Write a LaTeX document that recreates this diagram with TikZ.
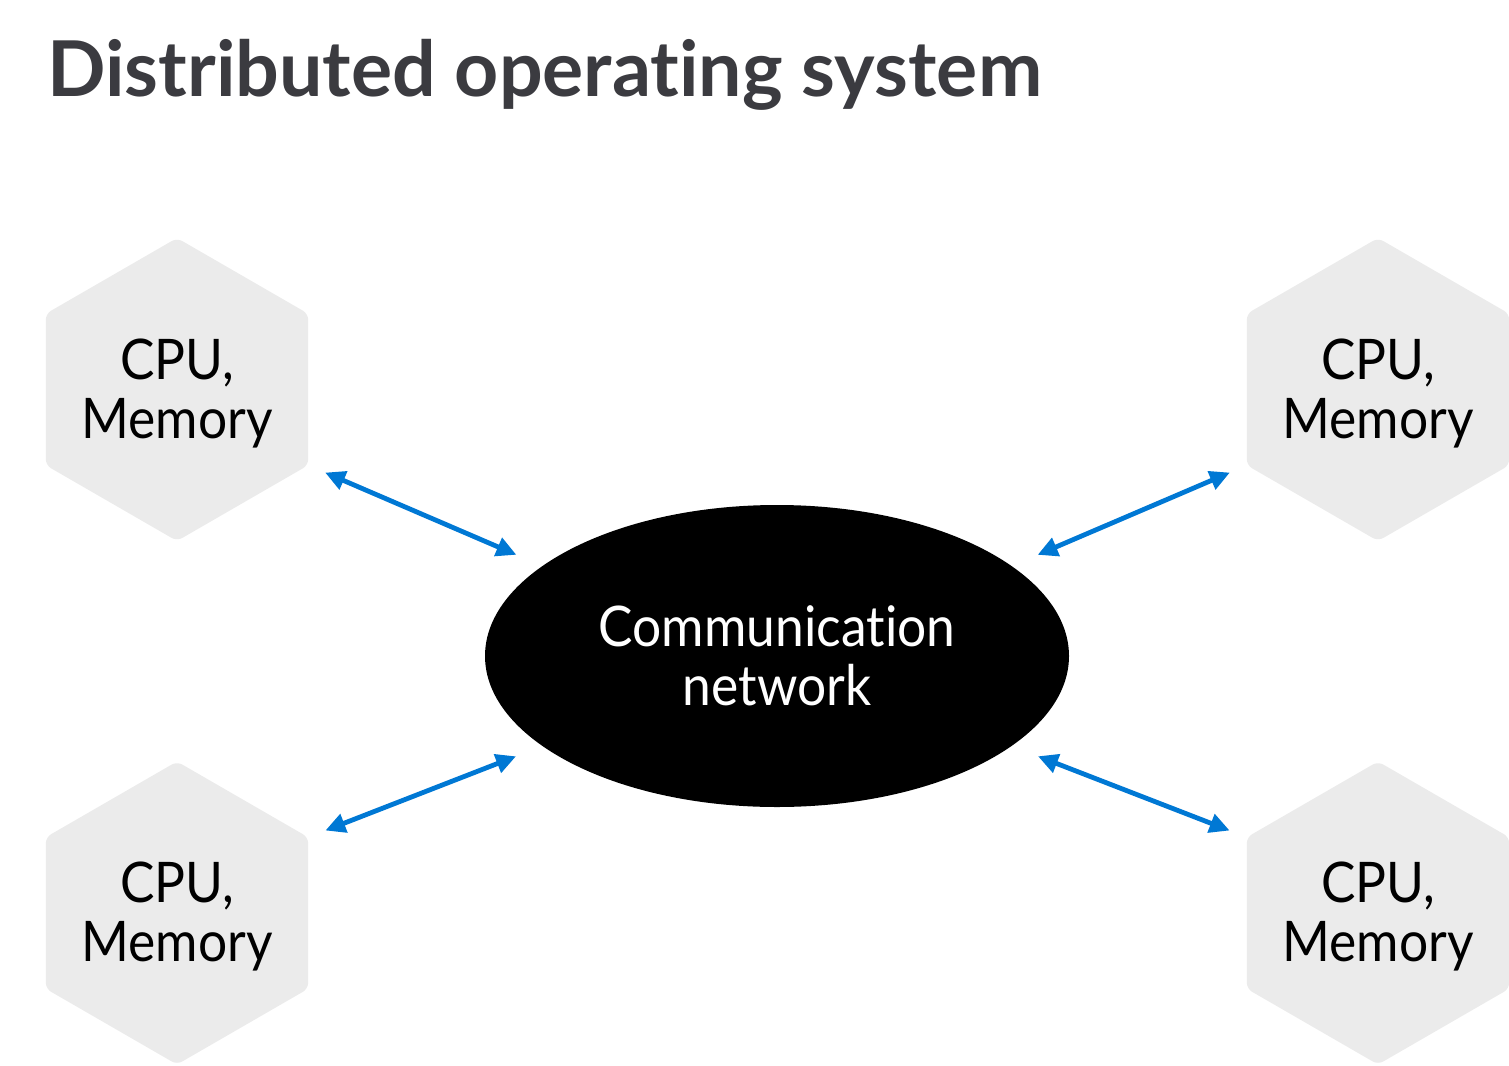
\documentclass[tikz,border=0pt]{standalone}
\usepackage{fontspec}
\setmainfont[FakeStretch=0.92, Ligatures=NoCommon]{Lato}
\newfontfamily\titlefont[Ligatures=NoCommon]{Lato}
\usepackage{tikz}
\usetikzlibrary{arrows.meta, shapes.geometric}

\definecolor{hexgray}{HTML}{EBEBEB}
\definecolor{linkblue}{HTML}{0078D4}
\definecolor{titlegray}{HTML}{3B3B40}

\begin{document}
\begin{tikzpicture}[
      x=0.5pt, y=-0.5pt,
      hexa/.style={regular polygon, regular polygon sides=6, shape border rotate=30,
        minimum size=151.5pt, inner sep=0pt, fill=hexgray, rounded corners=3pt,
        label={[align=center, yshift=-2pt, font=\fontsize{28}{29.5}\selectfont]center:#1}},
      hub/.style={ellipse, fill=black, text=white, minimum width=292pt, minimum height=151pt,
        inner sep=0pt, align=center, font=\fontsize{28}{29.5}\selectfont},
      arrow/.style={{Triangle[length=10pt,width=9.5pt]}-{Triangle[length=10pt,width=9.5pt]},
        line width=2.4pt, draw=linkblue, shorten <=9pt, shorten >=14pt}
  ]
      \useasboundingbox (0,0) rectangle (1509,1065);

      % Title
      \node[anchor=base west, inner sep=0pt, text=titlegray, font=\fontsize{38.5}{39}\titlefont\bfseries]
        (title) at (47,97) {Distributed operating system};

      % Network in the middle
      \node[hub] (net) at (777,656) {Communication\\network};

      % Machines
      \node[hexa={CPU,\\Memory}] (hTL) at (177,389.5) {};
      \node[hexa={CPU,\\Memory}] (hTR) at (1378,389.5) {};
      \node[hexa={CPU,\\Memory}] (hBL) at (177,913) {};
      \node[hexa={CPU,\\Memory}] (hBR) at (1378,913) {};

      % Links
      \draw[arrow] (hTL.-30) -- (net.159);
      \draw[arrow] (hTR.210) -- (net.21);
      \draw[arrow] (hBL.30) -- (net.201);
      \draw[arrow] (hBR.150) -- (net.-21);
  \end{tikzpicture}
\end{document}
